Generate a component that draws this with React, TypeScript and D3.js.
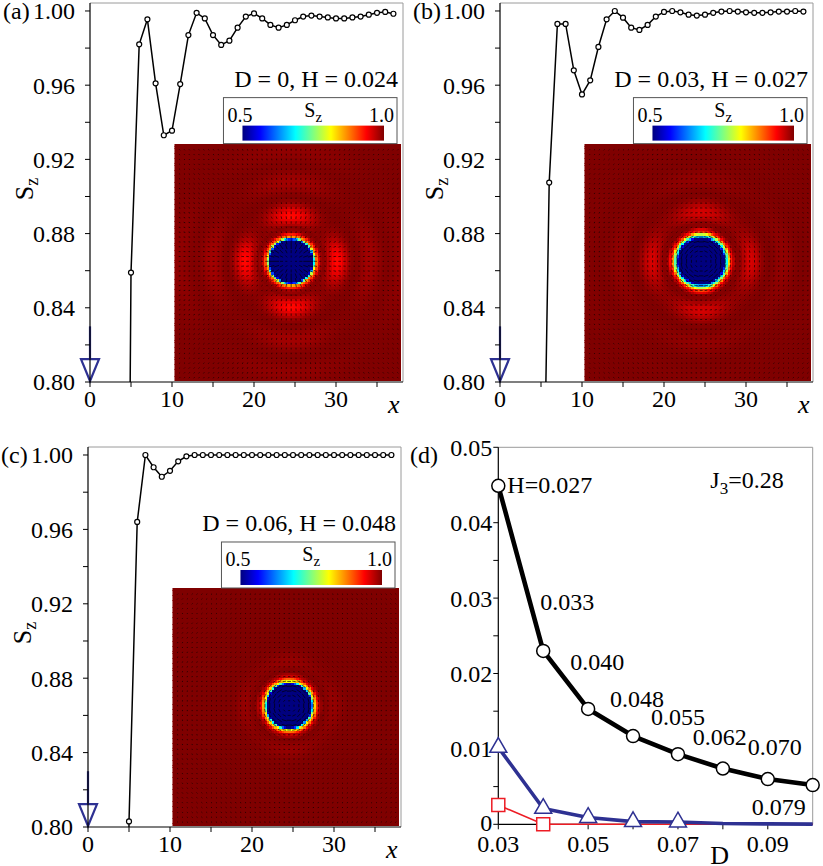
import React, { useEffect, useRef } from "react";
import * as d3 from "d3";

const FONT = "'Liberation Serif', 'Times New Roman', Times, serif";
const NAVY = "#2e3192";
const RED = "#ed1c24";
const FRAME_GRAY = "#9a9a9a";

// Lattice sites along a cut through the skyrmion centre
const sites = d3.range(38);

// S_z along the cut, one value per lattice site (sites 0..4 lie inside the core)
const profileA = [
  -1, -0.98, -0.9, -0.55, 0.27, 0.859, 0.982, 0.9955, 0.961, 0.933, 0.9355, 0.9606,
  0.987, 0.999, 0.996, 0.987, 0.9817, 0.984, 0.991, 0.997, 0.9987, 0.996, 0.9925,
  0.991, 0.9925, 0.995, 0.997, 0.9975, 0.997, 0.9965, 0.996, 0.996, 0.9965, 0.997,
  0.998, 0.999, 0.9995, 0.9985,
];
const profileB = [
  -1, -0.98, -0.9, -0.6, 0.0, 0.64, 0.9075, 0.993, 0.993, 0.968, 0.955, 0.9626,
  0.9806, 0.9955, 1.0, 0.9964, 0.991, 0.9898, 0.9925, 0.997, 0.9995, 1.0, 0.9993,
  0.998, 0.9975, 0.998, 0.999, 0.9997, 1.0, 0.9997, 0.9993, 0.999, 0.999, 0.9993,
  0.9997, 0.9997, 1.0, 0.9997,
];
const profileC = [
  -1, -0.98, -0.9, -0.55, 0.2, 0.803, 0.964, 1.0, 0.9934, 0.9883, 0.9915, 0.9966,
  0.9993, 1.0, 1.0, 1.0, 1.0, 1.0, 1.0, 1.0, 1.0, 1.0, 1.0, 1.0, 1.0, 1.0, 1.0, 1.0,
  1.0, 1.0, 1.0, 1.0, 1.0, 1.0, 1.0, 1.0, 1.0, 1.0,
];

const panelTags = ["(a)", "(b)", "(c)"];
const captions = ["D = 0, H = 0.024", "D = 0.03, H = 0.027", "D = 0.06, H = 0.048"];

const szTicks = [0.8, 0.84, 0.88, 0.92, 0.96, 1.0];
const szMinor = [0.82, 0.86, 0.9, 0.94, 0.98];
const siteTicks = [0, 10, 20, 30];
const siteMinor = [5, 15, 25, 35];

// Panel (d): quantities versus D, with the field H labelled at each point
const dValues = [0.03, 0.04, 0.05, 0.06, 0.07, 0.08, 0.09, 0.1];
const hLabels = ["0.027", "0.033", "0.040", "0.048", "0.055", "0.062", "0.070", "0.079"];
const blackSeries = [0.0449, 0.023, 0.0153, 0.0117, 0.0093, 0.0074, 0.006, 0.0052];
const blueSeries = [0.0102, 0.0021, 0.0009, 0.00035, 0.0003, 0.0001, 0.00005, 0.00002];
const blueMarked = 5;
const redSeries = [0.00256, 0, 0, 0, 0, 0, 0, 0];
const redMarked = 2;
const dTicks = [0.03, 0.05, 0.07, 0.09];
const dMinor = [0.04, 0.06, 0.08];
const eTicks = [0, 0.01, 0.02, 0.03, 0.04, 0.05];
const eMinor = [0.005, 0.015, 0.025, 0.035, 0.045];

// Label placement (offsets from each point, px)
const hLabelOffsets: [number, number][] = [
  [9, 7], [-3, -41], [-18, -39], [-23, -29], [-27, -29], [-30, -24], [-20, -24], [-61, 30],
];

// Jet colour map over 0.5..1.0
const jet = d3
  .scaleLinear<string>()
  .domain([0.5, 0.5625, 0.6875, 0.8125, 0.9375, 1.0])
  .range(["#00007f", "#0000ff", "#00ffff", "#ffff00", "#ff0000", "#7f0000"])
  .clamp(true);

const panels = [
  { id: "a", left: 90, top: 3, width: 313, height: 379, profile: profileA, anis: 0.92, twist: 0 },
  { id: "b", left: 500, top: 3, width: 313, height: 379, profile: profileB, anis: 0.8, twist: Math.PI / 2 },
  { id: "c", left: 88, top: 447, width: 313, height: 380, profile: profileC, anis: 0.6, twist: Math.PI / 2 },
];

type HeatProps = {
  id: string; x0: number; y0: number; w: number; h: number;
  profile: number[]; anis: number; twist: number;
};

function SpinMap({ id, x0, y0, w, h, profile, anis, twist }: HeatProps) {
  const ref = useRef<SVGGElement>(null);
  useEffect(() => {
    const g = d3.select(ref.current);
    g.selectAll("*").remove();
    const site = 4.85;
    const cx = x0 + 116.7;
    const cy = y0 + 117.7;
    const last = profile.length - 1;
    const radial = (r: number) => {
      if (r >= last) return profile[last];
      const i = Math.floor(r);
      const f = r - i;
      return profile[i] + (profile[i + 1] - profile[i]) * f;
    };
    const sz = (px: number, py: number) => {
      const dx = (px - cx) / site;
      const dy = (py - cy) / site;
      const r = Math.hypot(dx, dy);
      const th = Math.atan2(dy, dx);
      const blend = Math.max(0, Math.min(1, (r - 5.5) / 2.5));
      const weight = 1 - anis * blend * Math.pow(Math.sin(2 * th), 2);
      return 1 - (1 - radial(r)) * weight;
    };

    const cell = site / 2;
    const cells: { x: number; y: number; cw: number; ch: number; v: number }[] = [];
    for (let j = 0; j * cell < h; j++) {
      for (let i = 0; i * cell < w; i++) {
        const x = x0 + i * cell;
        const y = y0 + j * cell;
        const cw = Math.min(cell, x0 + w - x);
        const ch = Math.min(cell, y0 + h - y);
        cells.push({ x, y, cw, ch, v: sz(x + cw / 2, y + ch / 2) });
      }
    }
    g.append("g")
      .attr("shape-rendering", "crispEdges")
      .selectAll("rect")
      .data(cells)
      .join("rect")
      .attr("x", (d) => d.x)
      .attr("y", (d) => d.y)
      .attr("width", (d) => Math.min(d.cw + 0.5, x0 + w - d.x))
      .attr("height", (d) => Math.min(d.ch + 0.5, y0 + h - d.y))
      .attr("fill", (d) => jet(d.v));

    const spins: { x1: number; y1: number; x2: number; y2: number }[] = [];
    const i0 = Math.ceil((x0 + 1.5 - cx) / site);
    const i1 = Math.floor((x0 + w - 1.5 - cx) / site);
    const j0 = Math.ceil((y0 + 1.5 - cy) / site);
    const j1 = Math.floor((y0 + h - 1.5 - cy) / site);
    for (let j = j0; j <= j1; j++) {
      for (let i = i0; i <= i1; i++) {
        const px = cx + i * site;
        const py = cy + j * site;
        const s = Math.max(-1, Math.min(1, sz(px, py)));
        const m = Math.sqrt(1 - s * s);
        const len = 1.2 + 4.2 * m;
        const ang = Math.atan2(py - cy, px - cx) + twist;
        const ux = Math.cos(ang);
        const uy = Math.sin(ang);
        spins.push({
          x1: px - (ux * len) / 2,
          y1: py - (uy * len) / 2,
          x2: px + (ux * len) / 2,
          y2: py + (uy * len) / 2,
        });
      }
    }
    g.append("g")
      .attr("stroke", "#000")
      .attr("stroke-opacity", 0.65)
      .attr("stroke-width", 1)
      .selectAll("line")
      .data(spins)
      .join("line")
      .attr("x1", (d) => d.x1)
      .attr("y1", (d) => d.y1)
      .attr("x2", (d) => d.x2)
      .attr("y2", (d) => d.y2);
  }, [id, x0, y0, w, h, profile, anis, twist]);

  return (
    <g>
      <clipPath id={`map-clip-${id}`}>
        <rect x={x0} y={y0} width={w} height={h} />
      </clipPath>
      <g ref={ref} clipPath={`url(#map-clip-${id})`} />
    </g>
  );
}

function ProfilePanel({
  id, left, top, width, height, profile, anis, twist, index,
}: {
  id: string; left: number; top: number; width: number; height: number;
  profile: number[]; anis: number; twist: number; index: number;
}) {
  const x = d3.scaleLinear().domain([0, 38.17]).range([left, left + width]);
  const y = d3.scaleLinear().domain([0.8, 1.0043]).range([top + height, top]);
  const bottom = top + height;
  const right = left + width;
  const pts = sites.map((s, i) => [s, profile[i]] as [number, number]);
  const line = d3
    .line<[number, number]>()
    .x((d) => x(d[0]))
    .y((d) => y(d[1]));
  const hl = x(10.3);
  const hr = right - 2;
  const ht = y(0.9285);
  const hb = bottom - 1;
  const fmt = d3.format(".2f");

  return (
    <g>
      <clipPath id={`plot-clip-${id}`}>
        <rect x={left} y={top} width={width} height={height} />
      </clipPath>

      {/* frame */}
      <line x1={left} x2={right} y1={top} y2={top} stroke={FRAME_GRAY} strokeWidth={1} />
      <line x1={right} x2={right} y1={top} y2={bottom} stroke={FRAME_GRAY} strokeWidth={1} />

      {/* inset: S_z map of the skyrmion */}
      <SpinMap id={id} x0={hl} y0={ht} w={hr - hl} h={hb - ht} profile={profile} anis={anis} twist={twist} />

      {/* colour bar */}
      <defs>
        <linearGradient id={`jet-${id}`} x1="0" x2="1" y1="0" y2="0">
          {d3.range(0, 1.0001, 1 / 16).map((t) => (
            <stop key={t} offset={t} stopColor={jet(0.5 + 0.5 * t)} />
          ))}
        </linearGradient>
      </defs>
      <rect x={hl + 49} y={ht - 46} width={hr - 4 - (hl + 49)} height={46} fill="#fff" stroke="#555" strokeWidth={1} />
      <rect x={hl + 68} y={ht - 18} width={hr - 17 - (hl + 68)} height={15} fill={`url(#jet-${id})`} />
      <text x={hl + 53} y={ht - 22} fontSize={20}>0.5</text>
      <text x={hr - 7} y={ht - 22} fontSize={20} textAnchor="end">1.0</text>
      <text x={(hl + 68 + hr - 17) / 2} y={ht - 27} fontSize={20} textAnchor="middle">
        S<tspan fontSize={15} dy={5}>z</tspan>
      </text>

      <text x={hr - 3} y={ht - 57} fontSize={24} textAnchor="end">{captions[index]}</text>

      {/* profile line */}
      <path d={line(pts) || ""} fill="none" stroke="#000" strokeWidth={1.5} clipPath={`url(#plot-clip-${id})`} />
      {pts
        .filter((d) => d[1] >= 0.8)
        .map((d) => (
          <circle key={d[0]} cx={x(d[0])} cy={y(d[1])} r={2.5} fill="#fff" stroke="#000" strokeWidth={1.2} />
        ))}

      {/* arrow marking the reversed core spin at the centre */}
      <line x1={x(0)} x2={x(0)} y1={y(0.83)} y2={y(0.8123)} stroke={NAVY} strokeWidth={2.2} />
      <path
        d={`M${x(0) - 9},${y(0.8123)} L${x(0) + 9},${y(0.8123)} L${x(0)},${y(0.8) - 1} Z`}
        fill="#fff"
        stroke={NAVY}
        strokeWidth={2.2}
        strokeLinejoin="miter"
      />

      {/* axes */}
      <line x1={left} x2={left} y1={top} y2={bottom} stroke="#000" strokeWidth={1.2} />
      <line x1={left} x2={right} y1={bottom} y2={bottom} stroke="#000" strokeWidth={1.2} />
      {szTicks.concat(szMinor).map((t) => (
        <line key={`yt${t}`} x1={left - 5} x2={left} y1={y(t)} y2={y(t)} stroke="#000" strokeWidth={1} />
      ))}
      {siteTicks.concat(siteMinor).map((t) => (
        <line key={`xt${t}`} x1={x(t)} x2={x(t)} y1={bottom} y2={bottom + 5} stroke="#000" strokeWidth={1} />
      ))}
      {szTicks.map((t) => (
        <text key={`yl${t}`} x={left - 15} y={y(t)} dy="0.35em" fontSize={24} textAnchor="end">
          {fmt(t)}
        </text>
      ))}
      {siteTicks.map((t) => (
        <text key={`xl${t}`} x={x(t)} y={bottom + 25} fontSize={24} textAnchor="middle">
          {t}
        </text>
      ))}
      <text x={right - 15} y={bottom + 31} fontSize={26} fontStyle="italic">x</text>
      <text transform={`translate(${left - 57},${top + 186}) rotate(-90)`} fontSize={26} textAnchor="middle">
        S<tspan fontSize={18} dy={5}>z</tspan>
      </text>
      <text x={left - 87} y={y(1) + 8.5} fontSize={24}>{panelTags[index]}</text>
    </g>
  );
}

function FieldPanel() {
  const left = 498.3;
  const right = 812.7;
  const top = 447.3;
  const bottom = 824.3;
  const x = d3.scaleLinear().domain([0.03, 0.1]).range([left, right]);
  const y = d3.scaleLinear().domain([0, 0.05]).range([bottom, top]);
  const toPts = (vals: number[]) => dValues.map((d, i) => [d, vals[i]] as [number, number]);
  const line = d3
    .line<[number, number]>()
    .x((d) => x(d[0]))
    .y((d) => y(d[1]));
  const black = toPts(blackSeries);
  const blue = toPts(blueSeries);
  const red = toPts(redSeries);
  const tri = d3.symbol(d3.symbolTriangle, 125)() || "";
  const sq = d3.symbol(d3.symbolSquare, 169)() || "";
  const fmt = (v: number) => (v === 0 ? "0" : d3.format(".2f")(v));

  return (
    <g>
      <line x1={left} x2={right} y1={top} y2={top} stroke={FRAME_GRAY} strokeWidth={1} />
      <line x1={right} x2={right} y1={top} y2={bottom} stroke={FRAME_GRAY} strokeWidth={1} />

      <line x1={left} x2={left} y1={top} y2={bottom} stroke="#000" strokeWidth={1.2} />
      <line x1={left} x2={right} y1={bottom} y2={bottom} stroke="#000" strokeWidth={1.2} />
      {eTicks.concat(eMinor).map((t) => (
        <line key={`yt${t}`} x1={left - 5} x2={left} y1={y(t)} y2={y(t)} stroke="#000" strokeWidth={1} />
      ))}
      {dTicks.concat(dMinor).map((t) => (
        <line key={`xt${t}`} x1={x(t)} x2={x(t)} y1={bottom} y2={bottom + 5} stroke="#000" strokeWidth={1} />
      ))}
      {eTicks.map((t) => (
        <text key={`yl${t}`} x={left - 6} y={t === 0 ? y(t) - 2 : y(t)} dy="0.35em" fontSize={24} textAnchor="end">
          {fmt(t)}
        </text>
      ))}
      {dTicks.map((t) => (
        <text key={`xl${t}`} x={x(t)} y={bottom + 28} fontSize={24} textAnchor="middle">
          {d3.format(".2f")(t)}
        </text>
      ))}
      <text x={x(0.0793)} y={864} fontSize={26} textAnchor="middle">D</text>
      <text x={410} y={top + 16} fontSize={24}>(d)</text>
      <text x={left + 212} y={top + 41} fontSize={24}>
        J<tspan fontSize={17} dy={6}>3</tspan>
        <tspan dy={-6}>=0.28</tspan>
      </text>

      <path d={line(red) || ""} fill="none" stroke={RED} strokeWidth={1.6} />
      <path d={line(blue) || ""} fill="none" stroke={NAVY} strokeWidth={3.6} strokeLinejoin="round" />
      <path d={line(black) || ""} fill="none" stroke="#000" strokeWidth={4.6} strokeLinejoin="round" />

      {red.slice(0, redMarked).map((d) => (
        <path key={`r${d[0]}`} d={sq} transform={`translate(${x(d[0])},${y(d[1])})`} fill="#fff" stroke={RED} strokeWidth={1.5} />
      ))}
      {blue.slice(0, blueMarked).map((d) => (
        <path key={`b${d[0]}`} d={tri} transform={`translate(${x(d[0])},${y(d[1])})`} fill="#fff" stroke={NAVY} strokeWidth={1.5} />
      ))}
      {black.map((d) => (
        <circle key={`k${d[0]}`} cx={x(d[0])} cy={y(d[1])} r={6.5} fill="#fff" stroke="#000" strokeWidth={1.5} />
      ))}
      {black.map((d, i) => (
        <text
          key={`h${d[0]}`}
          x={x(d[0]) + hLabelOffsets[i][0]}
          y={y(d[1]) + hLabelOffsets[i][1]}
          fontSize={24}
        >
          {i === 0 ? `H=${hLabels[i]}` : hLabels[i]}
        </text>
      ))}
    </g>
  );
}

export default function App() {
  return (
    <svg
      width={823}
      height={866}
      fontFamily={FONT}
      style={{ position: "absolute", left: 0, top: 0, background: "#fff" }}
    >
      <rect width={823} height={866} fill="#fff" />
      {panels.map((p, i) => (
        <ProfilePanel key={p.id} {...p} index={i} />
      ))}
      <FieldPanel />
    </svg>
  );
}
